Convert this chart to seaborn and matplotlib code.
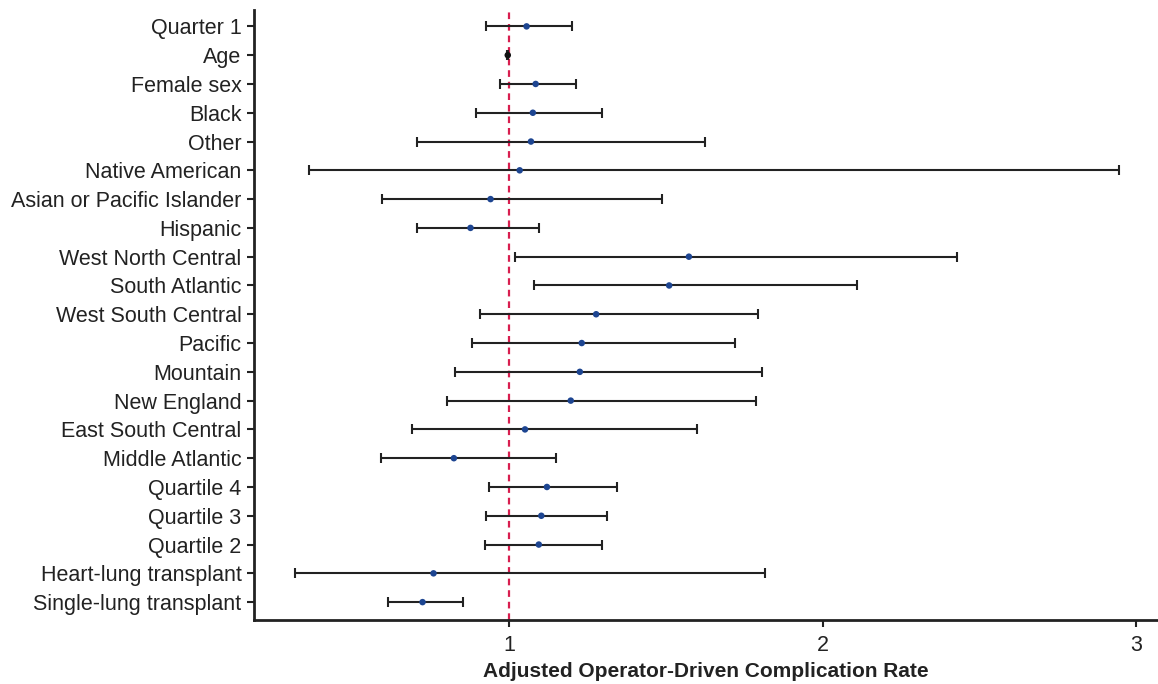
import matplotlib
matplotlib.use("Agg")
import matplotlib.pyplot as plt
import seaborn as sns
import numpy as np
import pandas as pd

labels = ["Quarter 1", "Age", "Female sex", "Black", "Other", "Native American",
          "Asian or Pacific Islander", "Hispanic", "West North Central", "South Atlantic",
          "West South Central", "Pacific", "Mountain", "New England", "East South Central",
          "Middle Atlantic", "Quartile 4", "Quartile 3", "Quartile 2",
          "Heart-lung transplant", "Single-lung transplant"]
estimate = [1.055, 0.995, 1.084, 1.075, 1.069, 1.033, 0.940, 0.876, 1.573, 1.510,
            1.277, 1.231, 1.225, 1.196, 1.050, 0.823, 1.120, 1.102, 1.094, 0.758, 0.723]
lower = [0.927, 0.993, 0.969, 0.894, 0.704, 0.361, 0.595, 0.704, 1.017, 1.078,
         0.906, 0.882, 0.827, 0.802, 0.689, 0.591, 0.936, 0.927, 0.921, 0.315, 0.613]
upper = [1.201, 0.997, 1.213, 1.295, 1.623, 2.946, 1.486, 1.094, 2.430, 2.111,
         1.795, 1.719, 1.807, 1.786, 1.598, 1.148, 1.342, 1.312, 1.296, 1.816, 0.851]
xticks = [1, 2, 3]

df = pd.DataFrame({"label": labels, "est": estimate, "lo": lower, "hi": upper})
df["pos"] = np.arange(len(df))
df["kind"] = ["ref" if l == "Age" else "var" for l in labels]

sns.set_theme(style="ticks")
plt.rcParams["font.family"] = ["Liberation Sans", "DejaVu Sans"]

fig = plt.figure(figsize=(11.58, 6.84), dpi=100)
ax = fig.add_axes([0.2193, 0.0936, 0.7807, 0.8914])

ax.axvline(1, color="#d81e4f", linestyle=(0, (3, 2.2)), linewidth=1.6, zorder=1)

ax.errorbar(df["est"], df["pos"],
            xerr=[df["est"] - df["lo"], df["hi"] - df["est"]],
            fmt="none", ecolor="#222222", elinewidth=1.5, capsize=3.5, capthick=1.5, zorder=2)

sns.scatterplot(data=df, x="est", y="pos", hue="kind",
                palette={"var": "#1d4591", "ref": "#111111"},
                s=22, edgecolor="none", legend=False, zorder=3, ax=ax)

ax.set_yticks(df["pos"])
ax.set_yticklabels(df["label"], fontsize=15.5, color="#222222")
ax.set_ylim(20.62, -0.56)
ax.set_xlim(0.185, 3.07)
ax.set_xticks(xticks)
ax.set_xticklabels([str(t) for t in xticks], fontsize=15.5, color="#222222")
ax.set_xlabel("Adjusted Operator-Driven Complication Rate", fontsize=15,
              fontweight="bold", color="#222222", labelpad=4)
ax.set_ylabel("")

for s in ["top", "right"]:
    ax.spines[s].set_visible(False)
for s in ["left", "bottom"]:
    ax.spines[s].set_linewidth(2)
    ax.spines[s].set_color("#222222")
ax.tick_params(axis="both", direction="out", length=5, width=1.5, color="#222222")
ax.tick_params(axis="y", pad=4)
ax.tick_params(axis="x", pad=6)

fig.savefig("out.png", dpi=100)
